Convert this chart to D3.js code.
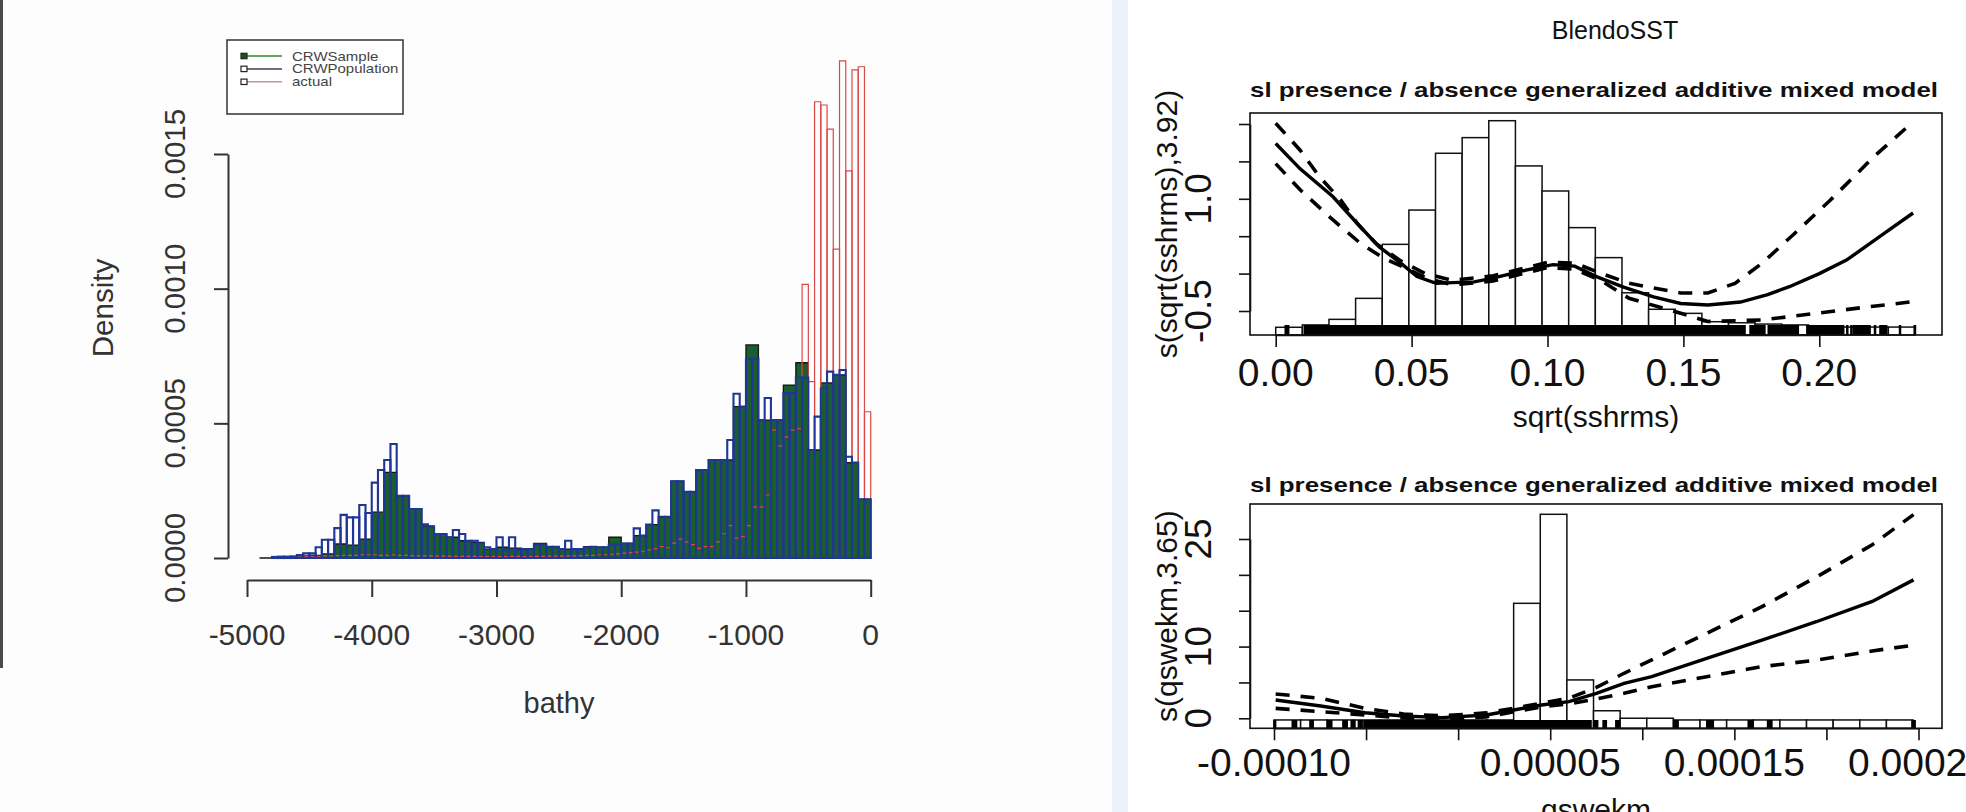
<!DOCTYPE html>
<html>
<head>
<meta charset="utf-8">
<script src="https://cdn.jsdelivr.net/npm/d3@7"></script>
<style>
html, body { margin: 0; padding: 0; background: #fff; }
svg { display: block; font-family: "Liberation Sans", Arial, sans-serif; }
</style>
</head>
<body>
<svg id="chart" width="1966" height="812"></svg>
<script>
// ---------- left panel: bathy histograms (density values in units of 1e-4) ----------
const DENS_UNIT = 1e-4;
const bathyTicks = [-5000, -4000, -3000, -2000, -1000, 0];
const densityTicks = [0, 0.0005, 0.0010, 0.0015];
const legendLabels = ["CRWSample", "CRWPopulation", "actual"];

// CRWSample, 100 m bins from -4900
const sampleStart = -4900, sampleBin = 100;
const sampleDensity = [
  0, 0.03, 0.05, 0.08, 0.1,
  0.15, 0.52, 0.48, 0.7,
  1.7, 3.18, 2.31, 1.82, 1.19, 0.89, 0.77, 0.64, 0.58, 0.33,
  0.4, 0.37, 0.33, 0.54, 0.42, 0.33, 0.33, 0.42, 0.4, 0.77,
  0.54, 0.83, 1.24, 1.53, 2.85, 2.46, 3.27, 3.64, 3.64, 5.62,
  7.91, 5.12, 5.12, 6.42, 7.25, 4.01, 6.5, 6.8, 3.54, 2.18
];

// CRWPopulation, 50 m bins from -4800
const popStart = -4800, popBin = 50;
const popDensity = [
  0.04, 0.05, 0.05, 0.06,
  0.11, 0.17, 0.17, 0.4, 0.68, 0.68, 1.11, 1.6, 1.51, 1.51, 1.97, 1.67,
  2.8, 3.27, 3.64, 4.23,
  2.31, 2.31, 1.82, 1.82, 1.25, 1.15, 0.89, 0.89, 0.77, 1.04, 0.89, 0.64, 0.64, 0.55, 0.4, 0.33,
  0.77, 0.3, 0.77, 0.3, 0.33, 0.33, 0.5, 0.5, 0.42, 0.42, 0.33, 0.64, 0.33, 0.33, 0.4, 0.42, 0.4, 0.4, 0.5, 0.5,
  0.54, 0.54, 1.1, 0.83, 1.24, 1.77, 1.53, 1.53, 2.85, 2.85,
  2.46, 2.46, 3.27, 3.27, 3.64, 3.64, 3.64, 4.38, 6.1, 5.62,
  7.4, 7.4, 5.12, 5.94, 5.12, 5.12, 6.12, 6.12, 6.7, 6.7,
  4.01, 5.25, 6.3, 6.92, 6.8, 6.98, 3.76, 3.54, 2.18, 2.18
];

// actual, 50 m bins from -4800
const actualStart = -4800, actualBin = 50;
const actualDensity = [
  0.02, 0.02, 0.03, 0.03, 0.04, 0.05, 0.06, 0.06, 0.08, 0.08, 0.09, 0.1, 0.1, 0.1, 0.12, 0.12,
  0.12, 0.1, 0.1, 0.12, 0.1, 0.1, 0.09, 0.08, 0.08, 0.08, 0.07, 0.07, 0.07, 0.06, 0.06, 0.06, 0.06, 0.05, 0.05, 0.05,
  0.05, 0.05, 0.06, 0.06, 0.05, 0.05, 0.06, 0.06, 0.07, 0.07, 0.07, 0.08, 0.08, 0.09, 0.1, 0.1, 0.12, 0.12, 0.14, 0.15,
  0.18, 0.2, 0.22, 0.25, 0.3, 0.35, 0.42, 0.38, 0.55, 0.7,
  0.6, 0.5, 0.36, 0.42, 0.42, 0.6, 0.9, 1.2, 0.74, 0.79,
  1.2, 1.9, 1.9, 2.34, 4.75, 4.16, 4.5, 4.75, 4.8, 10.16,
  6.55, 16.94, 16.82, 15.92, 11.47, 18.46, 14.37, 18.12, 18.24, 5.43
];

// ---------- right panels: GAMM smooths ----------
const pageTitle = "BlendoSST";
const panelTitle = "sl presence / absence generalized additive mixed model";

// sqrt(sshrms) panel
const sshrmsTicks = [0, 0.05, 0.10, 0.15, 0.20];
const sshrmsTickLabels = ["0.00", "0.05", "0.10", "0.15", "0.20"];
const sshrmsYTicks = [-0.5, 0, 0.5, 1.0, 1.5, 2.0];
const sshrmsYLabelled = [-0.5, 1.0];
const sshrmsYLabels = ["-0.5", "1.0"];
const sshrmsBinStart = 0, sshrmsBinWidth = 0.0098;
const sshrmsHist = [0.036, 0.047, 0.073, 0.171, 0.423, 0.583, 0.848, 0.921, 1.0, 0.789, 0.672, 0.501,
  0.361, 0.197, 0.12, 0.101, 0.062, 0.057, 0.051, 0.047, 0.037, 0.037, 0.037, 0.037];
const sshrmsRug = [[0.0035, 0.0048], [0.0105, 0.1727], [0.1745, 0.180], [0.1812, 0.1923], [0.1954, 0.2083],
  [0.2086, 0.2090], [0.2101, 0.2105], [0.2116, 0.2120], [0.2125, 0.2187], [0.2203, 0.2207],
  [0.2223, 0.2248], [0.2295, 0.2299], [0.2349, 0.2354]];
const sshrmsFit = [[0.0, 1.74], [0.009, 1.40], [0.021, 1.03], [0.030, 0.67], [0.038, 0.36], [0.046, 0.14],
  [0.052, -0.04], [0.059, -0.13], [0.065, -0.12], [0.073, -0.11], [0.080, -0.06], [0.090, 0.03],
  [0.102, 0.12], [0.110, 0.10], [0.118, -0.04], [0.128, -0.18], [0.139, -0.31], [0.149, -0.40],
  [0.159, -0.42], [0.171, -0.38], [0.181, -0.28], [0.189, -0.175], [0.200, 0.0], [0.210, 0.18],
  [0.224, 0.54], [0.2345, 0.81]];
const sshrmsUpper = [[0.0, 2.01], [0.009, 1.65], [0.016, 1.30], [0.024, 0.98], [0.030, 0.67], [0.037, 0.40],
  [0.046, 0.17], [0.055, 0.0], [0.065, -0.09], [0.080, -0.03], [0.100, 0.15], [0.110, 0.14],
  [0.120, 0.0], [0.130, -0.13], [0.149, -0.26], [0.159, -0.26], [0.169, -0.13], [0.179, 0.14],
  [0.191, 0.54], [0.204, 0.98], [0.220, 1.56], [0.2345, 2.03]];
const sshrmsLower = [[0.0, 1.47], [0.009, 1.12], [0.021, 0.72], [0.031, 0.41], [0.040, 0.2], [0.048, 0.07],
  [0.056, -0.07], [0.065, -0.15], [0.080, -0.10], [0.100, 0.08], [0.110, 0.06], [0.120, -0.10],
  [0.130, -0.33], [0.149, -0.53], [0.159, -0.64], [0.179, -0.62], [0.199, -0.53], [0.219, -0.44],
  [0.2345, -0.375]];

// qswekm panel
const qswekmTicks = [-0.0001, -0.00005, 0, 0.00005, 0.0001, 0.00015, 0.0002, 0.00025];
const qswekmLabelled = [-0.0001, 0.00005, 0.00015, 0.00025];
const qswekmTickLabels = ["-0.00010", "0.00005", "0.00015", "0.00025"];
const qswekmYTicks = [0, 5, 10, 15, 20, 25];
const qswekmYLabelled = [0, 10, 25];
const qswekmYLabels = ["0", "10", "25"];
const qswekmBinStart = -0.0001, qswekmBinWidth = 0.00001446;
const qswekmHist = [0.039, 0.039, 0.039, 0.039, 0.039, 0.039, 0.039, 0.039, 0.039, 0.584, 1.0, 0.226,
  0.082, 0.047, 0.047, 0.039, 0.039, 0.039, 0.039, 0.039, 0.039, 0.039, 0.039, 0.039];
const qswekmRug = [[-0.0001, -0.0000991], [-0.0000901, -0.0000877], [-0.0000805, -0.0000787],
  [-0.0000710, -0.0000686], [-0.0000626, -0.0000602], [-0.0000581, -0.0000560], [-0.0000542, -0.0000521],
  [-0.0000512, 0.0000722], [0.0000737, 0.0000758], [0.0000787, 0.0000805], [0.0000856, 0.0000877],
  [0.0001171, 0.0001195], [0.0001350, 0.0001386], [0.0001575, 0.0001599], [0.0001680, 0.0001704],
  [0.0002464, 0.0002482]];
const qswekmFit = [[-0.0000991, 2.55], [-0.0000746, 1.72], [-0.0000506, 0.78], [-0.0000296, 0.32],
  [-0.0000087, 0.09], [0.0000153, 0.46], [0.0000302, 1.16], [0.0000452, 1.86], [0.0000602, 2.32],
  [0.0000751, 3.49], [0.0000901, 4.88], [0.0001051, 5.8], [0.000135, 8.37], [0.000165, 10.9],
  [0.0001949, 13.5], [0.0002249, 16.3], [0.0002473, 19.3]];
const qswekmUpper = [[-0.0000991, 3.39], [-0.0000746, 2.79], [-0.0000506, 1.39], [-0.0000296, 0.6],
  [-0.0000087, 0.35], [0.0000153, 0.75], [0.0000302, 1.4], [0.0000452, 2.1], [0.0000602, 2.8],
  [0.0000751, 4.3], [0.0000901, 6.28], [0.0001051, 8.13], [0.000120, 10.0], [0.000135, 11.86],
  [0.000165, 15.57], [0.0001949, 19.75], [0.0002249, 24.2], [0.0002473, 28.4]];
const qswekmLower = [[-0.0000991, 1.39], [-0.0000746, 0.93], [-0.0000506, 0.46], [-0.0000296, 0.05],
  [-0.0000087, -0.15], [0.0000153, 0.2], [0.0000302, 0.9], [0.0000452, 1.6], [0.0000602, 2.0],
  [0.0000751, 2.7], [0.0000901, 3.49], [0.0001051, 4.4], [0.000135, 5.8], [0.000165, 7.2],
  [0.0001949, 8.13], [0.0002249, 9.39], [0.0002473, 10.2]];

// ---------- drawing ----------
const svg = d3.select("#chart");

svg.append("rect").attr("width", 1112).attr("height", 812).attr("fill", "#fdfdfd");
svg.append("rect").attr("x", 1112).attr("width", 16).attr("height", 812).attr("fill", "#ecf0f8");
svg.append("rect").attr("x", 1128).attr("width", 838).attr("height", 812).attr("fill", "#ffffff");
svg.append("rect").attr("width", 3).attr("height", 668).attr("fill", "#4a4a4a");

// left panel
const xL = d3.scaleLinear().domain([-5000, 0]).range([247, 870.7]);
const yL = d3.scaleLinear().domain([0, 0.0015]).range([558, 154]);
const left = svg.append("g");

function barPath(start, width, v) {
  const x0 = xL(start), x1 = xL(start + width);
  const y0 = yL(0), y1 = yL(v * DENS_UNIT);
  return `M${x0},${y0}V${y1}H${x1}V${y0}Z`;
}

left.append("g").selectAll("path").data(sampleDensity).join("path")
  .attr("d", (d, i) => barPath(sampleStart + i * sampleBin, sampleBin, d))
  .attr("fill", "#1a5e2e").attr("stroke", "#151515").attr("stroke-width", 1.3);

left.append("g").selectAll("path").data(actualDensity).join("path")
  .attr("d", (d, i) => barPath(actualStart + i * actualBin, actualBin, d))
  .attr("fill", "none").attr("stroke", "#d94848").attr("stroke-width", 1.2);

left.append("g").selectAll("path").data(popDensity).join("path")
  .attr("d", (d, i) => barPath(popStart + i * popBin, popBin, d))
  .attr("fill", "none").attr("stroke", "#1f3696").attr("stroke-width", 2.1);

const axisStyle = g => {
  g.select(".domain").attr("stroke", "#333").attr("stroke-width", 2);
  g.selectAll(".tick line").attr("stroke", "#333").attr("stroke-width", 2);
};

left.append("g").attr("transform", "translate(0,580)")
  .call(d3.axisBottom(xL).tickValues(bathyTicks).tickSize(17).tickSizeOuter(0).tickFormat(""))
  .call(axisStyle);
left.append("g").attr("transform", "translate(228,0)")
  .call(d3.axisLeft(yL).tickValues(densityTicks).tickSize(14).tickSizeOuter(0).tickFormat(""))
  .call(axisStyle);

left.append("g").selectAll("text").data(bathyTicks).join("text")
  .attr("x", d => xL(d)).attr("y", 645)
  .attr("text-anchor", "middle").attr("font-size", 30).attr("fill", "#333")
  .text(d => String(d));

left.append("g").selectAll("text").data(densityTicks).join("text")
  .attr("transform", d => `translate(175,${yL(d)}) rotate(-90)`)
  .attr("dy", "0.35em").attr("text-anchor", "middle").attr("font-size", 29.5).attr("fill", "#333")
  .text(d => d3.format(".4f")(d));

left.append("text").attr("x", 559).attr("y", 713).attr("text-anchor", "middle")
  .attr("font-size", 29).attr("fill", "#333").text("bathy");
left.append("text").attr("transform", "translate(103,308) rotate(-90)")
  .attr("dy", "0.35em").attr("text-anchor", "middle").attr("font-size", 29.5).attr("fill", "#333")
  .text("Density");

// legend
const legend = left.append("g");
const legendFill = ["#0f5a14", "#ffffff", "#ffffff"];
const legendLine = ["#2f8a35", "#3c3c5c", "#c49494"];
legend.append("rect").attr("x", 227).attr("y", 40).attr("width", 176).attr("height", 74)
  .attr("fill", "#fff").attr("stroke", "#333").attr("stroke-width", 1.5);
const rows = legend.selectAll("g").data(legendLabels).join("g")
  .attr("transform", (d, i) => `translate(0,${56 + i * 12.9})`);
rows.append("line").attr("x1", 247).attr("x2", 282).attr("y1", 0).attr("y2", 0)
  .attr("stroke", (d, i) => legendLine[i]).attr("stroke-width", 1.5);
rows.append("rect").attr("x", 241).attr("y", -2.7).attr("width", 6).attr("height", 5.4)
  .attr("fill", (d, i) => legendFill[i]).attr("stroke", "#222").attr("stroke-width", 1.2);
rows.append("text").attr("transform", "translate(292,4.5) scale(1.2,1)")
  .attr("font-size", 12.5).attr("fill", "#444").text(d => d);

// right panels
function hText(g, x, y, str, size) {
  return g.append("text").attr("x", x).attr("y", y)
    .attr("text-anchor", "middle").attr("font-size", size).attr("fill", "#111").text(str);
}
function vText(g, x, y, str, size) {
  return g.append("text").attr("transform", `translate(${x},${y}) rotate(-90)`)
    .attr("dy", "0.35em").attr("text-anchor", "middle").attr("font-size", size).attr("fill", "#111")
    .text(str);
}

hText(svg, 1615, 39, pageTitle, 25);

const panels = [
  {
    box: [1250, 113, 1942, 335], titleY: 97,
    xDomain: [0, 0.2], xRange: [1275.7, 1819.3], yDomain: [-0.5, 2.0], yRange: [311, 124],
    histTop: 120.7, binStart: sshrmsBinStart, binWidth: sshrmsBinWidth, hist: sshrmsHist,
    rug: sshrmsRug, rugTop: 325,
    fit: sshrmsFit, upper: sshrmsUpper, lower: sshrmsLower,
    xTicks: sshrmsTicks, xLabelled: sshrmsTicks, xLabels: sshrmsTickLabels, xLabelY: 386,
    yTicks: sshrmsYTicks, yLabelled: sshrmsYLabelled, yLabels: sshrmsYLabels,
    xTitle: "sqrt(sshrms)", xTitleY: 427, yTitle: "s(sqrt(sshrms),3.92)"
  },
  {
    box: [1250, 504, 1942, 728.3], titleY: 492,
    xDomain: [-0.0001, 0.00025], xRange: [1274, 1918.5], yDomain: [0, 25], yRange: [718.3, 539],
    histTop: 514.3, binStart: qswekmBinStart, binWidth: qswekmBinWidth, hist: qswekmHist,
    rug: qswekmRug, rugTop: 720,
    fit: qswekmFit, upper: qswekmUpper, lower: qswekmLower,
    xTicks: qswekmTicks, xLabelled: qswekmLabelled, xLabels: qswekmTickLabels, xLabelY: 776,
    yTicks: qswekmYTicks, yLabelled: qswekmYLabelled, yLabels: qswekmYLabels,
    xTitle: "qswekm", xTitleY: 820, yTitle: "s(qswekm,3.65)"
  }
];

panels.forEach(p => {
  const g = svg.append("g");
  const [bx0, by0, bx1, by1] = p.box;
  const x = d3.scaleLinear().domain(p.xDomain).range(p.xRange);
  const y = d3.scaleLinear().domain(p.yDomain).range(p.yRange);
  const hy = d3.scaleLinear().domain([0, 1]).range([by1, p.histTop]);

  g.append("text").attr("x", (bx0 + bx1) / 2 - 2).attr("y", p.titleY).attr("text-anchor", "middle")
    .attr("font-size", 21).attr("font-weight", "bold").attr("fill", "#111")
    .attr("textLength", 688).attr("lengthAdjust", "spacingAndGlyphs").text(panelTitle);

  g.append("g").selectAll("rect").data(p.hist).join("rect")
    .attr("x", (d, i) => x(p.binStart + i * p.binWidth))
    .attr("width", x(p.binWidth) - x(0))
    .attr("y", d => hy(d)).attr("height", d => hy(0) - hy(d))
    .attr("fill", "#fff").attr("stroke", "#111").attr("stroke-width", 1.5);

  g.append("g").selectAll("rect").data(p.rug).join("rect")
    .attr("x", d => x(d[0]) - 0.7)
    .attr("width", d => Math.max(1.6, x(d[1]) - x(d[0]) + 1.4))
    .attr("y", p.rugTop).attr("height", by1 - p.rugTop)
    .attr("fill", "#000");

  const line = d3.line().x(d => x(d[0])).y(d => y(d[1]));
  g.append("path").attr("d", line(p.fit)).attr("fill", "none")
    .attr("stroke", "#000").attr("stroke-width", 3.4);
  [p.upper, p.lower].forEach(band => {
    g.append("path").attr("d", line(band)).attr("fill", "none")
      .attr("stroke", "#000").attr("stroke-width", 3.6).attr("stroke-dasharray", "14,11");
  });

  g.append("rect").attr("x", bx0).attr("y", by0).attr("width", bx1 - bx0).attr("height", by1 - by0)
    .attr("fill", "none").attr("stroke", "#111").attr("stroke-width", 1.6);

  const axStyle = a => {
    a.select(".domain").attr("stroke", "#111").attr("stroke-width", 1.6);
    a.selectAll(".tick line").attr("stroke", "#111").attr("stroke-width", 1.6);
  };
  g.append("g").attr("transform", `translate(0,${by1})`)
    .call(d3.axisBottom(x).tickValues(p.xTicks).tickSize(12).tickSizeOuter(0).tickFormat(""))
    .call(axStyle);
  g.append("g").attr("transform", `translate(${bx0},0)`)
    .call(d3.axisLeft(y).tickValues(p.yTicks).tickSize(11).tickSizeOuter(0).tickFormat(""))
    .call(axStyle);

  p.xLabelled.forEach((v, i) => hText(g, x(v), p.xLabelY, p.xLabels[i], 39));
  p.yLabelled.forEach((v, i) => vText(g, 1198, y(v), p.yLabels[i], 37));

  hText(g, 1596, p.xTitleY, p.xTitle, 30);
  vText(g, 1166, (by0 + by1) / 2, p.yTitle, 30);
});
</script>
</body>
</html>
